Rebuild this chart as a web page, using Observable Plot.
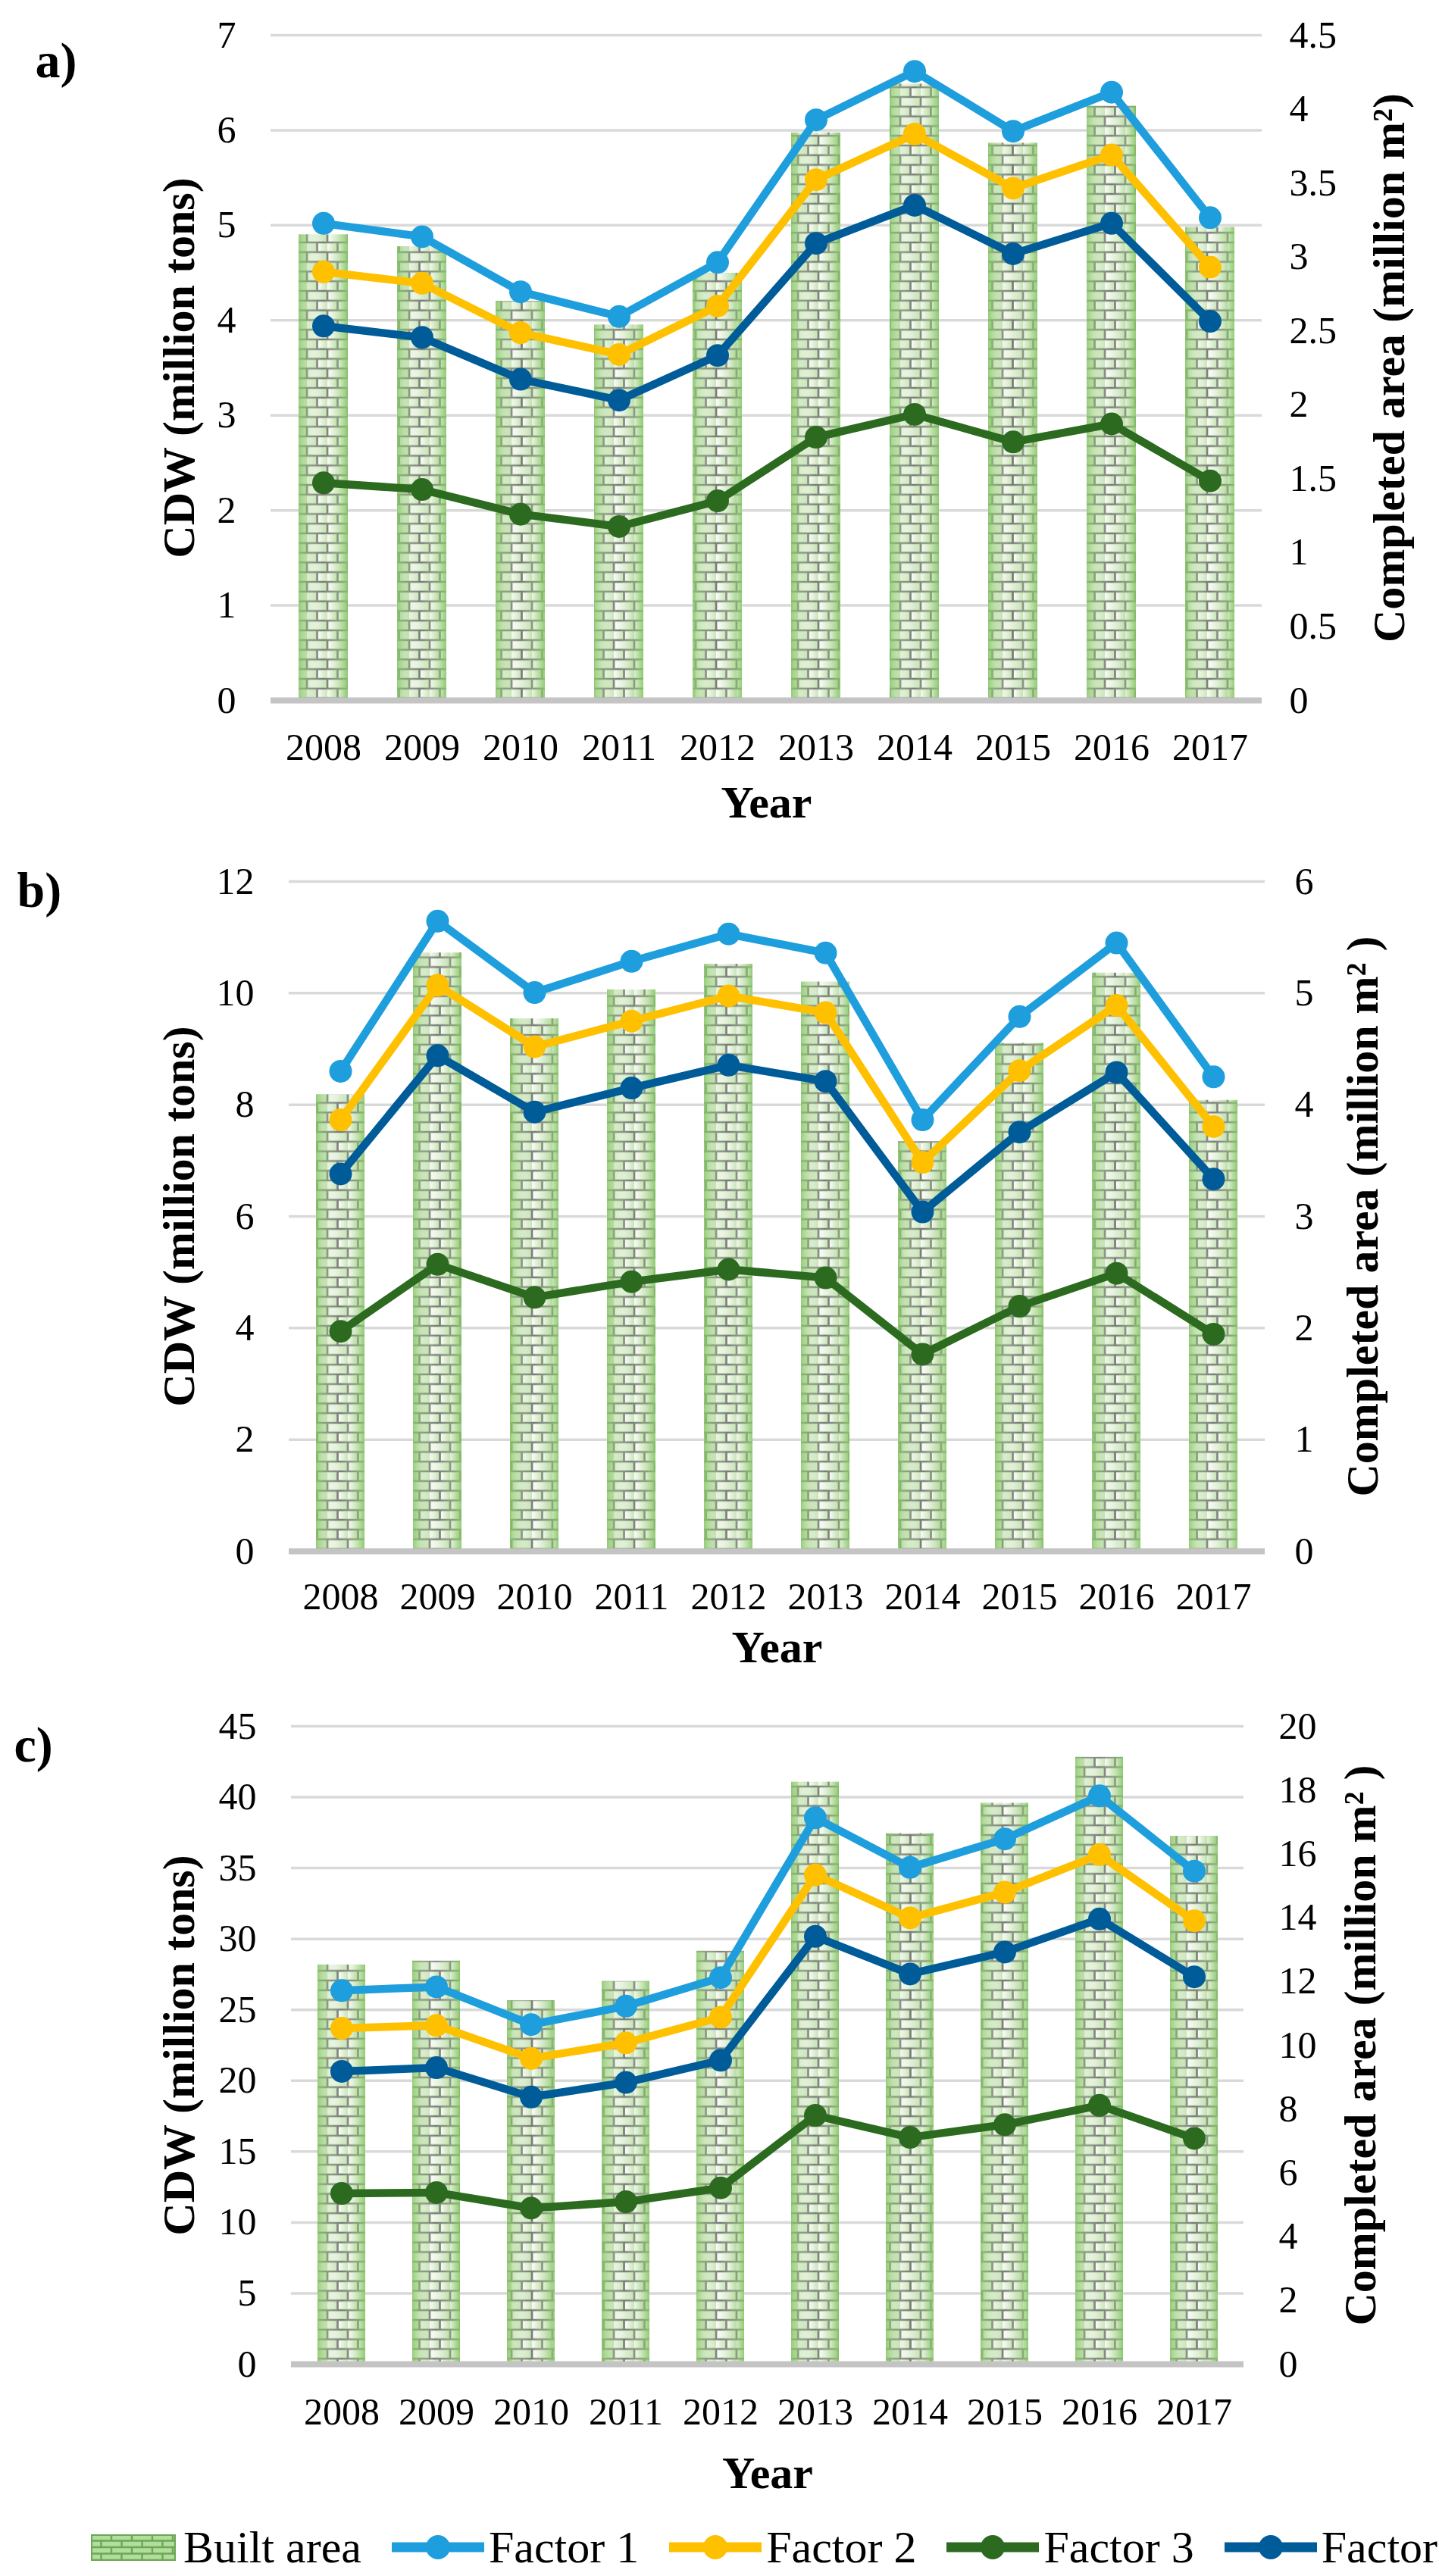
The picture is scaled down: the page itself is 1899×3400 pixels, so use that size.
<!DOCTYPE html>
<html>
<head>
<meta charset="utf-8">
<script src="https://cdn.jsdelivr.net/npm/d3@7"></script>
<script src="https://cdn.jsdelivr.net/npm/@observablehq/plot@0.6"></script>
<style>
  html, body { margin: 0; padding: 0; background: #fff; overflow: hidden; }
  #root { width: 1899px; height: 3400px; position: relative; overflow: hidden; }
  #root svg.panel { display: block; }
  .legend { width: 1899px; height: 104px; display: flex; align-items: center; white-space: nowrap; overflow: hidden;
            font-family: "Liberation Serif", "Times New Roman", serif; font-size: 60px; line-height: 1; color: #000; box-sizing: border-box; padding-left: 120px; }
  .legend .item { display: flex; align-items: center; margin-right: 40px; flex: none; }
  .legend .item span { line-height: 1; }
  .legend .item svg { display: block; margin-right: 6px; }
  .legend .item svg.built { margin-right: 10px; }
</style>
</head>
<body>
<svg width="0" height="0" style="position:absolute">
  <defs>
    <linearGradient id="brickFace" x1="0" x2="1" y1="0" y2="0">
      <stop offset="0" stop-color="#fbfdf9"/>
      <stop offset="1" stop-color="#c6e3b4"/>
    </linearGradient>
    <pattern id="brick" patternUnits="userSpaceOnUse" width="27" height="25.6">
      <rect width="27" height="25.6" fill="#d9eecb"/>
      <rect x="1.35" y="1.35" width="24.3" height="10.1" fill="url(#brickFace)"/>
      <rect x="0" y="14.15" width="12.15" height="10.1" fill="url(#brickFace)"/>
      <rect x="14.85" y="14.15" width="12.15" height="10.1" fill="url(#brickFace)"/>
      <path d="M0 0H27M0 12.8H27M0 25.6H27M0 0V12.8M27 0V12.8M13.5 12.8V25.6" stroke="#767a73" stroke-width="2.7" fill="none"/>
    </pattern>
    <pattern id="brickLegend" patternUnits="userSpaceOnUse" width="27" height="17">
      <rect width="27" height="17" fill="#b3dc9f"/>
      <path d="M0 0H27M0 8.5H27M0 17H27M0 0V8.5M27 0V8.5M13.5 8.5V17" stroke="#6aa853" stroke-width="2.4" fill="none"/>
    </pattern>
    <linearGradient id="edge" x1="0" x2="1" y1="0" y2="0">
      <stop offset="0" stop-color="#86c567" stop-opacity="0.85"/>
      <stop offset="0.17" stop-color="#a3d487" stop-opacity="0.4"/>
      <stop offset="0.5" stop-color="#ffffff" stop-opacity="0"/>
      <stop offset="0.83" stop-color="#a3d487" stop-opacity="0.4"/>
      <stop offset="1" stop-color="#86c567" stop-opacity="0.85"/>
    </linearGradient>
  </defs>
</svg>
<div id="root"></div>
<script>
// ---------- data ----------
const years = ["2008","2009","2010","2011","2012","2013","2014","2015","2016","2017"];
const factorNames = ["Factor 1","Factor 2","Factor 3","Factor 4"];
const factorColors = ["#1e9edc","#ffc000","#2b6a1f","#005c99"];

// panel a (CDW million tons; built area million m2)
const aFactor1 = [5.02,4.88,4.30,4.04,4.61,6.11,6.62,5.99,6.40,5.08];
const aFactor2 = [4.51,4.39,3.87,3.64,4.15,5.48,5.96,5.39,5.74,4.56];
const aFactor3 = [2.29,2.22,1.96,1.83,2.10,2.77,3.01,2.72,2.91,2.31];
const aFactor4 = [3.94,3.82,3.38,3.16,3.63,4.81,5.21,4.70,5.02,3.99];
const aArea    = [3.15,3.07,2.70,2.54,2.89,3.84,4.17,3.77,4.02,3.20];
const aLeftTicks  = [0,1,2,3,4,5,6,7];
const aRightTicks = [0,0.5,1,1.5,2,2.5,3,3.5,4,4.5];

// panel b
const bFactor1 = [8.60,11.29,10.01,10.57,11.06,10.72,7.73,9.58,10.90,8.50];
const bFactor2 = [7.73,10.14,9.04,9.50,9.95,9.65,6.97,8.61,9.78,7.61];
const bFactor3 = [3.94,5.14,4.55,4.83,5.05,4.90,3.53,4.39,4.98,3.89];
const bFactor4 = [6.76,8.88,7.87,8.30,8.71,8.42,6.08,7.51,8.58,6.67];
const bArea    = [4.09,5.36,4.77,5.03,5.26,5.10,3.67,4.55,5.18,4.04];
const bLeftTicks  = [0,2,4,6,8,10,12];
const bRightTicks = [0,1,2,3,4,5,6];

// panel c
const cFactor1 = [26.36,26.62,23.96,25.26,27.27,38.54,35.04,37.05,40.09,34.78];
const cFactor2 = [23.70,23.90,21.57,22.67,24.48,34.52,31.48,33.29,35.95,31.28];
const cFactor3 = [12.05,12.11,11.01,11.46,12.44,17.55,16.00,16.90,18.26,15.93];
const cFactor4 = [20.66,20.92,18.85,19.88,21.44,30.18,27.53,29.08,31.41,27.33];
const cArea    = [12.52,12.64,11.40,12.00,12.95,18.25,16.64,17.59,19.03,16.55];
const cLeftTicks  = [0,5,10,15,20,25,30,35,40,45];
const cRightTicks = [0,2,4,6,8,10,12,14,16,18,20];

// ---------- drawing ----------
const serif = "'Liberation Serif', 'Times New Roman', serif";
const fmt = v => String(Math.round(v * 100) / 100);

function panel(cfg) {
  const k = cfg.leftTicks[cfg.leftTicks.length - 1] / cfg.rightTicks[cfg.rightTicks.length - 1];
  const rows = years.map((year, i) => ({year, area: cfg.area[i]}));
  const series = [];
  cfg.factors.forEach((vals, j) => vals.forEach((v, i) => series.push({year: years[i], factor: factorNames[j], value: v})));
  const svg = Plot.plot({
    width: 1899,
    height: cfg.height,
    marginTop: cfg.mt, marginBottom: cfg.mb, marginLeft: cfg.ml, marginRight: cfg.mr,
    style: {fontFamily: serif, fontSize: "50px", color: "#000", background: "#fff", overflow: "visible"},
    x: {type: "band", domain: years, paddingInner: 0.5, paddingOuter: 0.25, axis: null},
    y: {domain: [0, cfg.leftTicks[cfg.leftTicks.length - 1]], axis: null},
    color: {domain: factorNames, range: factorColors},
    marks: [
      Plot.gridY(cfg.leftTicks, {stroke: "#d9d9d9", strokeOpacity: 1, strokeWidth: 3.5}),
      Plot.barY(rows, {x: "year", y: d => d.area * k, fill: "url(#brick)"}),
      Plot.barY(rows, {x: "year", y: d => d.area * k, fill: "url(#edge)"}),
      Plot.ruleY([0], {stroke: "#c4c4c4", strokeWidth: 8}),
      Plot.line(series, {x: "year", y: "value", z: "factor", stroke: "factor", strokeWidth: 10.5, strokeLinejoin: "round"}),
      Plot.dot(series, {x: "year", y: "value", fill: "factor", r: 15}),
      Plot.axisY(cfg.leftTicks, {anchor: "left", tickSize: 0, tickPadding: 46, tickFormat: fmt, label: null}),
      Plot.axisY(cfg.rightTicks.map(v => v * k), {anchor: "right", tickSize: 0, tickPadding: cfg.rpad, tickFormat: d => fmt(d / k), label: null}),
      Plot.axisX({tickSize: 0, tickPadding: cfg.xpad, label: null}),
      Plot.text([cfg.leftTitle], {text: d => d, frameAnchor: "left", textAnchor: "middle", lineAnchor: "middle", rotate: -90, dx: cfg.ltx, fontSize: 60, fontWeight: "bold"}),
      Plot.text([cfg.rightTitle], {text: d => d, frameAnchor: "right", textAnchor: "middle", lineAnchor: "middle", rotate: -90, dx: cfg.rtx, fontSize: 60, fontWeight: "bold"}),
      Plot.text(["Year"], {text: d => d, frameAnchor: "bottom", textAnchor: "middle", lineAnchor: "middle", dy: cfg.yearDy, fontSize: 60, fontWeight: "bold"}),
      Plot.text([cfg.tag], {text: d => d, frameAnchor: "top-left", textAnchor: "start", lineAnchor: "middle", dx: cfg.tagDx, dy: cfg.tagDy, fontSize: 66, fontWeight: "bold"})
    ]
  });
  svg.classList.add("panel");
  return svg;
}

const root = document.getElementById("root");
root.appendChild(panel({
  height: 1110, mt: 46, mb: 186, ml: 357, mr: 234, rpad: 36, xpad: 43,
  factors: [aFactor1, aFactor2, aFactor3, aFactor4], area: aArea,
  leftTicks: aLeftTicks, rightTicks: aRightTicks,
  leftTitle: "CDW (million tons)", rightTitle: "Completed area (million m²)",
  ltx: -121, rtx: 168, yearDy: 135, tag: "a)", tagDx: -311, tagDy: 34
}));
root.appendChild(panel({
  height: 1120, mt: 53, mb: 183, ml: 381, mr: 230, rpad: 39, xpad: 41,
  factors: [bFactor1, bFactor2, bFactor3, bFactor4], area: bArea,
  leftTicks: bLeftTicks, rightTicks: bRightTicks,
  leftTitle: "CDW (million tons)", rightTitle: "Completed area (million m² )",
  ltx: -145, rtx: 129, yearDy: 127, tag: "b)", tagDx: -359, tagDy: 12
}));
root.appendChild(panel({
  height: 1080, mt: 48, mb: 190, ml: 384, mr: 258, rpad: 46, xpad: 44,
  factors: [cFactor1, cFactor2, cFactor3, cFactor4], area: cArea,
  leftTicks: cLeftTicks, rightTicks: cRightTicks,
  leftTitle: "CDW (million tons)", rightTitle: "Completed area (million m² )",
  ltx: -148, rtx: 154, yearDy: 144, tag: "c)", tagDx: -366, tagDy: 25
}));

// legend
const legend = document.createElement("div");
legend.className = "legend";
const ns = "http://www.w3.org/2000/svg";
function item(label, swatch) {
  const it = document.createElement("div");
  it.className = "item";
  it.appendChild(swatch);
  const t = document.createElement("span");
  t.textContent = label;
  it.appendChild(t);
  legend.appendChild(it);
}
{
  const s = document.createElementNS(ns, "svg");
  s.setAttribute("width", 112); s.setAttribute("height", 35);
  s.setAttribute("class", "built");
  s.innerHTML = '<rect width="112" height="35" fill="url(#brickLegend)"/><rect x="1" y="1" width="110" height="33" fill="none" stroke="#6aa853" stroke-width="2"/>';
  item("Built area", s);
}
factorNames.forEach((name, i) => {
  const s = document.createElementNS(ns, "svg");
  s.setAttribute("width", 122); s.setAttribute("height", 40);
  s.innerHTML = `<line x1="0" x2="122" y1="20" y2="20" stroke="${factorColors[i]}" stroke-width="13" stroke-linecap="round"/><circle cx="61" cy="20" r="16" fill="${factorColors[i]}"/>`;
  item(name, s);
});
root.appendChild(legend);
</script>
</body>
</html>
